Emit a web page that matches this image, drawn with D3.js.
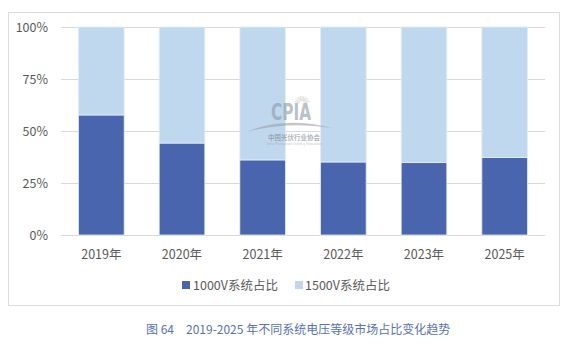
<!DOCTYPE html>
<html>
<head>
<meta charset="utf-8">
<script src="https://cdn.jsdelivr.net/npm/d3@7/dist/d3.min.js"></script>
<style>
  html, body { margin: 0; padding: 0; background: #ffffff; }
  svg { display: block; }
  text { font-family: "Noto Sans CJK SC", "Noto Sans", sans-serif; }
</style>
</head>
<body>
<svg id="chart" width="580" height="348"></svg>
<script>
// Share of systems by voltage class, per year (%)
const years = ["2019年", "2020年", "2021年", "2022年", "2023年", "2025年"];
const share1000V = [57.7, 44.2, 36.1, 35.1, 34.8, 37.3];
const share1500V = share1000V.map(v => 100 - v);
const seriesNames = ["1000V系统占比", "1500V系统占比"];
const seriesColors = ["#4865ae", "#c0d8ee"];
const yTicks = [0, 25, 50, 75, 100];

const svg = d3.select("#chart");

// outer frame
svg.append("rect")
  .attr("x", 8.5).attr("y", 12.5)
  .attr("width", 551).attr("height", 293)
  .attr("fill", "none").attr("stroke", "#dcdcdc").attr("stroke-width", 1);

const plot = { left: 61, right: 545, top: 27, bottom: 235 };

const x = d3.scaleBand()
  .domain(years)
  .range([plot.left, plot.right])
  .paddingInner(0.434)
  .paddingOuter(0.217);

const y = d3.scaleLinear()
  .domain([0, 100])
  .range([plot.bottom, plot.top]);

// gridlines
svg.append("g")
  .selectAll("line")
  .data(yTicks)
  .join("line")
  .attr("x1", plot.left).attr("x2", plot.right)
  .attr("y1", d => Math.round(y(d)) + 0.5)
  .attr("y2", d => Math.round(y(d)) + 0.5)
  .attr("stroke", "#d9d9d9").attr("stroke-width", 1);

// y axis labels
const yAxis = d3.axisLeft(y).tickValues(yTicks).tickFormat(d => d + "%").tickSize(0).tickPadding(0);
const gy = svg.append("g").attr("transform", `translate(${48},0)`).call(yAxis);
gy.select(".domain").remove();
gy.selectAll("text")
  .attr("fill", "#595959")
  .style("font-size", "12.5px")
  .style("font-family", "'Noto Sans CJK SC', sans-serif");

// stacked bars
const rows = years.map((yr, i) => ({ year: yr, a: share1000V[i], b: share1500V[i] }));
const stack = d3.stack().keys(["a", "b"])(rows);

svg.append("g")
  .selectAll("g")
  .data(stack)
  .join("g")
  .attr("fill", (d, i) => seriesColors[i])
  .selectAll("rect")
  .data(d => d)
  .join("rect")
  .attr("x", d => x(d.data.year))
  .attr("width", x.bandwidth())
  .attr("y", d => y(d[1]))
  .attr("height", d => y(d[0]) - y(d[1]))
  .attr("stroke", "#e4edf7")
  .attr("stroke-width", 0.8);

// watermark logo
const wm = svg.append("g").attr("opacity", 0.6);
const rays = d3.range(-70, 71, 14);
wm.append("g")
  .selectAll("line")
  .data(rays)
  .join("line")
  .attr("x1", d => 302 + Math.sin(d * Math.PI / 180) * 3)
  .attr("y1", d => 104 - Math.cos(d * Math.PI / 180) * 3)
  .attr("x2", d => 302 + Math.sin(d * Math.PI / 180) * 8)
  .attr("y2", d => 104 - Math.cos(d * Math.PI / 180) * 8)
  .attr("stroke", "#b8b8b8").attr("stroke-width", 0.8);
wm.append("text")
  .attr("transform", "translate(291,120) scale(0.85,1.25)")
  .attr("text-anchor", "middle")
  .attr("fill", "#8e98a4")
  .style("font-family", "'DejaVu Sans', sans-serif")
  .style("font-weight", "bold")
  .style("font-size", "18px")
  .text("CPIA");
wm.append("path")
  .attr("d", "M246,132 Q285,116 332,128 Q287,121 246,132 Z")
  .attr("fill", "#9aa0a8");
wm.append("text")
  .attr("x", 294).attr("y", 140)
  .attr("text-anchor", "middle")
  .attr("fill", "#7f8790")
  .style("font-size", "6.5px")
  .style("font-weight", "bold")
  .text("中国光伏行业协会");
wm.append("text")
  .attr("x", 294).attr("y", 145)
  .attr("text-anchor", "middle")
  .attr("fill", "#a0a6ad")
  .style("font-size", "3px")
  .text("China Photovoltaic Industry Association");

// x axis labels
svg.append("g")
  .selectAll("text")
  .data(years)
  .join("text")
  .attr("x", d => x(d) + x.bandwidth() / 2)
  .attr("y", 259)
  .attr("text-anchor", "middle")
  .attr("fill", "#595959")
  .style("font-size", "12.5px")
  .text(d => d);

// legend
const legendItems = [
  { name: seriesNames[0], color: seriesColors[0], sx: 182, tx: 193 },
  { name: seriesNames[1], color: seriesColors[1], sx: 295, tx: 305 }
];
const lg = svg.append("g");
lg.selectAll("rect")
  .data(legendItems)
  .join("rect")
  .attr("x", d => d.sx).attr("y", 281)
  .attr("width", 8).attr("height", 8)
  .attr("fill", d => d.color);
lg.selectAll("text")
  .data(legendItems)
  .join("text")
  .attr("x", d => d.tx).attr("y", 289.5)
  .attr("fill", "#595959")
  .style("font-size", "12.5px")
  .text(d => d.name);

// caption
svg.append("text")
  .attr("x", 146).attr("y", 334)
  .attr("fill", "#5a72b0")
  .style("font-size", "12px")
  .text("图 64");
svg.append("text")
  .attr("x", 186).attr("y", 334)
  .attr("fill", "#5a72b0")
  .style("font-size", "12px")
  .text("2019-2025 年不同系统电压等级市场占比变化趋势");
</script>
</body>
</html>
